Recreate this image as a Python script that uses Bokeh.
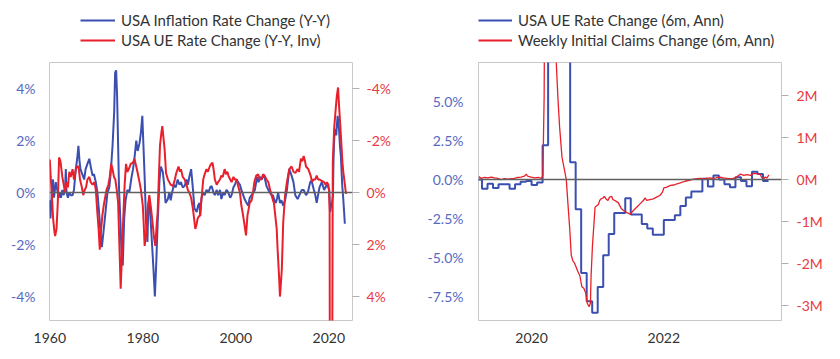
from bokeh.plotting import figure
from bokeh.models import (Range1d, LinearAxis, FixedTicker, PrintfTickFormatter,
                          Span, Legend, LegendItem)
from bokeh.layouts import row, column
from bokeh.embed import file_html
from bokeh.resources import INLINE

# ---------------- data: left chart (decimal years) ----------------
infl_t = [1960.0, 1960.15, 1960.3, 1960.5, 1960.7, 1960.9, 1961.1, 1961.3, 1961.6, 1961.9,
          1962.1, 1962.4, 1962.7, 1963.0, 1963.3, 1963.45, 1963.6, 1963.9, 1964.2, 1964.5,
          1964.9, 1965.2, 1965.6, 1965.9, 1966.16, 1966.4, 1966.6, 1967.0, 1967.4, 1967.7,
          1968.1, 1968.5, 1968.8, 1969.2, 1969.5, 1969.9, 1970.25, 1970.6, 1970.95, 1971.2,
          1971.5, 1971.9, 1972.4, 1972.8, 1973.1, 1973.5, 1973.85, 1974.05, 1974.27, 1974.48,
          1974.7, 1974.9, 1975.2, 1975.5, 1975.7, 1976.0, 1976.3, 1976.7, 1977.1, 1977.5,
          1977.9, 1978.2, 1978.6, 1978.9, 1979.3, 1979.6, 1979.9, 1980.1, 1980.4, 1980.7,
          1981.0, 1981.2, 1981.4, 1981.8, 1982.3, 1982.6, 1982.9, 1983.2, 1983.6, 1983.9,
          1984.3, 1984.6, 1984.9, 1985.4, 1985.7, 1986.0, 1986.3, 1986.7, 1987.1, 1987.5,
          1987.9, 1988.2, 1988.6, 1989.0, 1989.4, 1989.7, 1990.0, 1990.4, 1990.8, 1991.1,
          1991.6, 1991.9, 1992.2, 1992.35, 1992.6, 1992.9, 1993.3, 1993.7, 1994.1, 1994.5,
          1994.8, 1995.2, 1995.5, 1995.9, 1996.2, 1996.6, 1996.9, 1997.3, 1997.6, 1998.0,
          1998.4, 1998.8, 1999.1, 1999.5, 1999.8, 2000.2, 2000.5, 2000.9, 2001.2, 2001.6,
          2001.9, 2002.3, 2002.7, 2003.0, 2003.4, 2003.8, 2004.1, 2004.6, 2004.9, 2005.2,
          2005.6, 2005.9, 2006.3, 2006.6, 2007.0, 2007.3, 2007.7, 2008.0, 2008.3, 2008.6,
          2008.9, 2009.1, 2009.5, 2009.8, 2010.2, 2010.6, 2011.0, 2011.5, 2012.0, 2012.4,
          2012.8, 2013.3, 2013.8, 2014.2, 2014.6, 2015.1, 2015.5, 2016.0, 2016.3, 2016.8,
          2017.1, 2017.4, 2017.7, 2018.0, 2018.5, 2019.0, 2019.3, 2019.6, 2019.9, 2020.1,
          2020.3, 2020.5, 2020.7, 2020.9, 2021.0, 2021.15, 2021.3, 2021.5, 2021.6, 2021.75,
          2021.9, 2022.05, 2022.2, 2022.4, 2022.6, 2022.9, 2023.1, 2023.3, 2023.45]
infl_chg = [-0.3, -1.0, -0.5, 0.3, 0.5, -0.2, 0.1, 0.4, 0.1, -0.2,
            0.0, -0.2, 0.1, -0.1, 0.2, 0.9, 0.0, -0.2, 0.0, -0.1,
            -0.1, 0.1, 0.9, 1.3, 1.8, 1.2, 0.9, 0.7, 0.5, 0.9,
            1.1, 1.3, 1.0, 0.65, 0.7, 0.4, 0.0, -0.75, -1.65, -2.1,
            -1.6, -0.9, 0.0, 0.2, 0.75, 1.8, 3.1, 4.6, 4.7, 3.7,
            1.8, 0.1, -1.15, -2.7, -2.8, -1.0, -0.3, 0.1, 0.0, 0.5,
            0.9, 1.3, 2.0, 1.6, 1.9, 2.3, 2.95, 2.0, 0.6, -1.15,
            -1.9, -0.5, -0.2, -1.4, -2.95, -4.0, -2.7, -1.15, 0.5, 1.0,
            0.8, 0.3, -0.4, -0.25, 0.0, -0.3, 0.0, 0.3, 0.2, 0.5,
            0.3, 0.4, 0.2, 0.25, 0.5, 0.3, 0.6, 0.9, 0.1, -0.6,
            -0.75, -0.5, -0.4, -0.9, -0.25, 0.0, -0.1, 0.1, 0.0, 0.2,
            0.25, 0.0, -0.1, 0.1, -0.1, 0.1, -0.25, 0.0, -0.1, 0.1,
            0.0, -0.2, -0.1, 0.2, 0.3, 0.5, 0.4, 0.3, 0.1, -0.1,
            -0.25, -0.4, -0.5, -0.2, -0.1, 0.0, 0.1, 0.6, 0.4, 0.6,
            0.5, 0.7, 0.5, 0.25, 0.1, 0.0, -0.1, -0.1, -0.3, -0.4,
            -0.2, 0.0, -0.4, -0.3, -0.5, -0.3, 0.1, 0.9, 0.65, 0.4,
            -0.1, -0.25, -0.05, 0.1, 0.1, -0.1, 0.0, 0.4, 0.45, 0.1,
            -0.1, -0.4, -0.1, 0.2, 0.4, 0.1, 0.2, 0.3, 0.2, 0.1,
            -0.75, -0.5, -0.4, -0.1, 1.15, 2.0, 2.45, 2.3, 2.2, 2.6,
            2.95, 2.7, 2.45, 1.8, 1.4, 0.25, -0.2, -0.75, -1.2]

ue_t = [1960.0, 1960.2, 1960.45, 1960.72, 1961.0, 1961.15, 1961.45, 1961.72, 1962.0, 1962.3,
        1962.7, 1963.0, 1963.3, 1963.6, 1963.9, 1964.2, 1964.5, 1964.9, 1965.2, 1965.6,
        1965.9, 1966.2, 1966.5, 1966.9, 1967.2, 1967.5, 1967.8, 1968.1, 1968.5, 1968.8,
        1969.2, 1969.6, 1969.9, 1970.2, 1970.5, 1970.75, 1971.0, 1971.3, 1971.6, 1971.9,
        1972.2, 1972.6, 1972.9, 1973.2, 1973.5, 1973.8, 1974.1, 1974.4, 1974.7, 1974.9,
        1975.25, 1975.5, 1975.8, 1976.1, 1976.4, 1976.7, 1977.0, 1977.4, 1977.9, 1978.2,
        1978.6, 1978.9, 1979.3, 1979.6, 1980.0, 1980.2, 1980.4, 1980.7, 1981.0, 1981.4,
        1981.7, 1982.1, 1982.4, 1982.7, 1983.0, 1983.2, 1983.5, 1983.7, 1984.0, 1984.2,
        1984.45, 1984.7, 1985.0, 1985.4, 1985.7, 1986.0, 1986.5, 1986.9, 1987.2, 1987.5,
        1987.7, 1988.0, 1988.2, 1988.6, 1989.0, 1989.4, 1989.7, 1990.0, 1990.4, 1990.8,
        1991.1, 1991.3, 1991.6, 1991.8, 1992.1, 1992.3, 1992.6, 1993.0, 1993.3, 1993.7,
        1994.0, 1994.4, 1994.7, 1995.0, 1995.3, 1995.5, 1995.9, 1996.2, 1996.6, 1996.9,
        1997.2, 1997.6, 1997.9, 1998.2, 1998.4, 1998.8, 1999.1, 1999.5, 1999.8, 2000.2,
        2000.5, 2000.9, 2001.2, 2001.5, 2001.8, 2002.2, 2002.5, 2002.8, 2003.0, 2003.4,
        2003.7, 2004.0, 2004.4, 2004.8, 2005.2, 2005.5, 2005.9, 2006.2, 2006.6, 2007.0,
        2007.4, 2007.7, 2008.0, 2008.2, 2008.5, 2008.8, 2009.0, 2009.3, 2009.5, 2009.7,
        2009.9, 2010.2, 2010.6, 2011.0, 2011.5, 2012.0, 2012.4, 2012.8, 2013.3, 2013.6,
        2014.0, 2014.3, 2014.6, 2014.9, 2015.1, 2015.6, 2016.1, 2016.4, 2016.7, 2017.1,
        2017.4, 2017.7, 2018.0, 2018.5, 2019.0, 2019.3, 2019.6, 2019.9, 2020.05, 2020.18,
        2020.25, 2020.5, 2020.75, 2020.86, 2021.15, 2021.44, 2021.72, 2022.0, 2022.2, 2022.4,
        2022.65, 2022.94, 2023.15, 2023.4, 2023.6, 2023.72]
# year-over-year change of the unemployment rate (plotted on the inverted axis)
ue_chg = [-1.27, -0.6, 0.1, 1.0, 1.5, 1.67, 1.4, 0.4, -1.35, -1.2,
          -0.6, -0.3, 0.0, -0.4, -0.2, -0.8, -0.6, -0.9, -0.5, -0.9,
          -1.0, -1.0, -0.5, -0.2, 0.1, -0.1, -0.2, -0.5, -0.6, -0.4,
          -0.3, -0.4, -0.1, 0.7, 1.4, 2.2, 1.5, 0.9, 0.5, 0.2,
          -0.1, -0.3, -0.6, -1.1, -0.9, -0.6, -0.5, -0.1, 0.4, 1.6,
          3.7, 2.5, 1.0, -0.3, -1.1, -0.8, -0.9, -1.1, -1.15, -1.3,
          -1.0, -0.75, -0.4, -0.1, 0.5, 1.2, 2.05, 1.65, 0.7, 0.1,
          0.5, 1.15, 1.7, 2.05, 1.2, 0.75, -0.8, -1.8, -2.3, -2.55,
          -2.1, -1.65, -0.75, -0.5, -0.4, -0.3, -0.25, -0.5, -0.75, -0.9,
          -1.0, -0.8, -0.9, -0.6, -0.5, -0.3, -0.1, 0.0, 0.2, 0.65,
          1.1, 1.4, 1.2, 1.0, 0.9, 0.9, 0.3, -0.5, -0.7, -0.9,
          -0.8, -1.0, -1.1, -1.15, -0.8, -0.5, -0.3, -0.4, -0.5, -0.65,
          -0.6, -0.9, -0.7, -0.8, -0.65, -0.5, -0.4, -0.6, -0.5, -0.5,
          -0.25, 0.0, 0.5, 0.8, 1.15, 1.65, 0.9, 0.6, 0.4, 0.3,
          0.0, -0.4, -0.65, -0.7, -0.5, -0.5, -0.7, -0.65, -0.5, -0.4,
          -0.1, 0.1, 0.3, 0.4, 0.9, 1.4, 2.2, 3.2, 4.0, 3.5,
          2.95, 1.15, 0.1, -0.4, -0.9, -1.0, -0.8, -0.75, -0.9, -0.8,
          -1.3, -1.2, -1.4, -1.2, -1.0, -0.9, -0.65, -0.4, -0.5, -0.5,
          -0.65, -0.5, -0.5, -0.45, -0.4, -0.3, -0.4, -0.3, -0.1, 0.75,
          11.0, 10.0, 6.0, -1.15, -2.45, -3.1, -3.7, -4.04, -3.35, -2.8,
          -2.05, -1.15, -0.75, -0.4, -0.1, 0.05]

# ---------------- data: right chart ----------------
ue6_months = ["2019-03", "2019-04", "2019-05", "2019-06", "2019-07", "2019-08", "2019-09",
              "2019-10", "2019-11", "2019-12", "2020-01", "2020-02", "2020-03", "2020-04",
              "2020-05", "2020-06", "2020-07", "2020-08", "2020-09", "2020-10", "2020-11",
              "2020-12", "2021-01", "2021-02", "2021-03", "2021-04", "2021-05", "2021-06",
              "2021-07", "2021-08", "2021-09", "2021-10", "2021-11", "2021-12", "2022-01",
              "2022-02", "2022-03", "2022-04", "2022-05", "2022-06", "2022-07", "2022-08",
              "2022-09", "2022-10", "2022-11", "2022-12", "2023-01", "2023-02", "2023-03",
              "2023-04", "2023-05", "2023-06", "2023-07"]
ue6_chg = [0.0, -0.6, -0.28, -0.55, -0.3, -0.3, -0.6,
           -0.3, -0.15, -0.1, -0.35, -0.2, 2.2, 20.0,
           18.0, 14.0, 12.0, 1.1, -1.9, -6.0, -7.8,
           -8.55, -6.9, -4.85, -3.5, -2.15, -2.15, -1.2,
           -2.25, -2.25, -2.85, -3.15, -3.55, -3.55, -2.6,
           -2.6, -2.3, -1.7, -1.15, -0.77, -0.77, 0.05,
           -0.45, 0.25, 0.0, -0.3, -0.5, 0.15, -0.1,
           -0.43, 0.5, 0.35, -0.1]

claims_t = [2019.2, 2019.24, 2019.29, 2019.34, 2019.39, 2019.44, 2019.49, 2019.54, 2019.59,
            2019.64, 2019.69, 2019.74, 2019.79, 2019.84, 2019.89, 2019.92, 2019.94, 2019.99,
            2020.05, 2020.1, 2020.15, 2020.17, 2020.19, 2020.22, 2020.3, 2020.35, 2020.37,
            2020.4, 2020.424, 2020.46, 2020.5, 2020.525, 2020.55, 2020.575, 2020.6, 2020.626,
            2020.65, 2020.676, 2020.7, 2020.73, 2020.76, 2020.79, 2020.82, 2020.84, 2020.87,
            2020.89, 2020.9, 2020.92, 2020.94, 2020.96, 2020.99, 2021.01, 2021.03, 2021.05,
            2021.08, 2021.1, 2021.13, 2021.155, 2021.18, 2021.21, 2021.23, 2021.26, 2021.28,
            2021.31, 2021.36, 2021.4, 2021.43, 2021.49, 2021.54, 2021.59, 2021.64, 2021.69,
            2021.72, 2021.74, 2021.79, 2021.84, 2021.89, 2021.94, 2021.98, 2022.0, 2022.045,
            2022.1, 2022.15, 2022.2, 2022.25, 2022.32, 2022.4, 2022.45, 2022.5, 2022.55,
            2022.6, 2022.65, 2022.7, 2022.75, 2022.8, 2022.85, 2022.9, 2022.95, 2023.0,
            2023.05, 2023.1, 2023.16, 2023.21, 2023.26, 2023.31, 2023.36, 2023.41, 2023.46,
            2023.48, 2023.51, 2023.535, 2023.56, 2023.59]
claims_chg = [0.07, 0.03, 0.05, 0.04, 0.06, 0.04, 0.03, 0.0, 0.02,
              0.01, 0.02, 0.03, 0.05, 0.06, 0.08, 0.13, 0.08, 0.06,
              0.04, 0.05, 0.03, 0.1, 2.0, 12.0, 15.0, 6.0, 2.9,
              1.9, 1.25, 0.53, 0.21, 0.0, -0.58, -1.13, -1.81, -1.95,
              -2.0, -2.1, -2.2, -2.3, -2.56, -2.6, -2.72, -2.95, -3.04,
              -2.95, -2.3, -1.6, -1.13, -0.66, -0.62, -0.6, -0.5, -0.46,
              -0.44, -0.4, -0.47, -0.5, -0.42, -0.4, -0.48, -0.5, -0.52,
              -0.55, -0.7, -0.75, -0.78, -0.83, -0.74, -0.66, -0.58, -0.5,
              -0.44, -0.5, -0.48, -0.46, -0.42, -0.38, -0.3, -0.2, -0.18,
              -0.14, -0.13, -0.1, -0.08, -0.04, -0.01, 0.01, 0.02, 0.03,
              0.02, 0.03, 0.04, 0.02, 0.05, 0.06, 0.04, 0.03, 0.02,
              0.03, 0.06, 0.13, 0.1, 0.12, 0.1, 0.15, 0.14, 0.12,
              0.05, 0.02, 0.06, 0.04, 0.11]

left_ticks_pct = [-4, -2, 0, 2, 4]
left_years = [1960, 1980, 2000, 2020]
right_ticks_pct = [-7.5, -5.0, -2.5, 0.0, 2.5, 5.0]
right_ticks_m = [-3, -2, -1, 0, 1, 2]
right_years = [2020, 2022]

# ---------------- styling ----------------
FONT = "Lato"
BLUE = "#3b4fb1"
RED = "#e8202b"
BLUE_TXT = "#5669c2"
RED_TXT = "#e83a43"
TXT = "#333333"
FS = "14px"
LEG_FS = "15px"
LEG_H = 56
TOP = 6


def style_common(p):
    p.xgrid.visible = False
    p.ygrid.visible = False
    p.outline_line_color = "#c8c8c8"
    p.outline_line_width = 1
    p.background_fill_color = "white"
    p.border_fill_color = "white"


def style_axis(ax, color, ticks_out=0, standoff=10):
    ax.axis_line_color = None
    ax.major_tick_in = 0
    ax.major_tick_out = ticks_out
    ax.major_tick_line_color = "#b0b0b0" if ticks_out else None
    ax.minor_tick_line_color = None
    ax.major_label_text_font = FONT
    ax.major_label_text_font_size = FS
    ax.major_label_text_color = color
    ax.major_label_standoff = standoff


def legend_figure(labels, series, colors, x, gw):
    # legend strip above a chart; its frame is aligned with the chart's frame by the column
    lf = figure(width=420, height=LEG_H, x_range=Range1d(-2, -1), y_range=Range1d(-2, -1),
                x_axis_type=None, y_axis_type=None, output_backend="svg",
                toolbar_location=None, min_border=0)
    lf.outline_line_color = None
    lf.grid.visible = False
    items = []
    for lab, (xs, ys), col in zip(labels, series, colors):
        r = lf.line(xs, ys, line_color=col, line_width=2)  # out of view; only for the legend key
        items.append(LegendItem(label=lab, renderers=[r]))
    leg = Legend(items=items, location=(x, LEG_H - 50), border_line_color=None,
                 background_fill_alpha=0, label_text_font=FONT,
                 label_text_font_size=LEG_FS, label_text_color=TXT,
                 glyph_width=gw, glyph_height=20, label_height=20,
                 label_standoff=6, padding=0, margin=0, spacing=0)
    lf.add_layout(leg)
    return lf


# ---------------- left chart ----------------
p1 = figure(width=420, height=TOP + 258 + 39, x_range=Range1d(1959.94, 2025.1),
            y_range=Range1d(-4.92, 5.0), output_backend="svg", toolbar_location=None,
            min_border_left=49, min_border_right=68, min_border_top=TOP, min_border_bottom=39)
p1.extra_y_ranges = {"inv": Range1d(start=4.92, end=-5.0)}
style_common(p1)

p1.xaxis.ticker = FixedTicker(ticks=left_years)
style_axis(p1.xaxis[0], TXT, 0, 12)
p1.yaxis.ticker = FixedTicker(ticks=left_ticks_pct)
p1.yaxis.formatter = PrintfTickFormatter(format="%d%%")
style_axis(p1.yaxis[0], BLUE_TXT, 0, 14)

ax_r1 = LinearAxis(y_range_name="inv", ticker=FixedTicker(ticks=left_ticks_pct),
                   formatter=PrintfTickFormatter(format="%d%%"))
style_axis(ax_r1, RED_TXT, 7, 7)
p1.add_layout(ax_r1, "right")

p1.line(infl_t, infl_chg, line_color=BLUE, line_width=2)
p1.line(ue_t, ue_chg, line_color=RED, line_width=2, y_range_name="inv")
p1.add_layout(Span(location=0, dimension="width", line_color="#606060", line_width=1.5))

l1 = legend_figure(["USA Inflation Rate Change (Y-Y)", "USA UE Rate Change (Y-Y, Inv)"],
                   [(infl_t, infl_chg), (ue_t, ue_chg)], [BLUE, RED], 31, 35)

# ---------------- right chart ----------------
ue6_x = [int(m[:4]) + (int(m[5:]) - 1) / 12 for m in ue6_months]
ue6_x_ext = ue6_x + [ue6_x[-1] + 1 / 12]
ue6_y_ext = ue6_chg + [ue6_chg[-1]]

p2 = figure(width=420, height=TOP + 258 + 39, x_range=Range1d(2019.197, 2023.78),
            y_range=Range1d(-9.04, 7.5), output_backend="svg", toolbar_location=None,
            min_border_left=58, min_border_right=59, min_border_top=TOP, min_border_bottom=39)
p2.extra_y_ranges = {"claims": Range1d(-3.37, 2.8)}
style_common(p2)

p2.xaxis.ticker = FixedTicker(ticks=right_years)
style_axis(p2.xaxis[0], TXT, 0, 12)
p2.yaxis.ticker = FixedTicker(ticks=right_ticks_pct)
p2.yaxis.formatter = PrintfTickFormatter(format="%.1f%%")
style_axis(p2.yaxis[0], BLUE_TXT, 0, 15)

ax_r2 = LinearAxis(y_range_name="claims", ticker=FixedTicker(ticks=right_ticks_m),
                   formatter=PrintfTickFormatter(format="%dM"))
style_axis(ax_r2, RED_TXT, 7, 8)
p2.add_layout(ax_r2, "right")

p2.step(ue6_x_ext, ue6_y_ext, mode="after", line_color=BLUE, line_width=2)
p2.line(claims_t, claims_chg, line_color=RED, line_width=1.3, y_range_name="claims")
p2.add_layout(Span(location=0, dimension="width", line_color="#606060", line_width=1.5))

l2 = legend_figure(["USA UE Rate Change (6m, Ann)", "Weekly Initial Claims Change (6m, Ann)"],
                   [(ue6_x_ext, ue6_y_ext), (claims_t, claims_chg)], [BLUE, RED], 0, 34)

layout = row(column(l1, p1), column(l2, p2))
open("out.html", "w").write(file_html(layout, INLINE))
